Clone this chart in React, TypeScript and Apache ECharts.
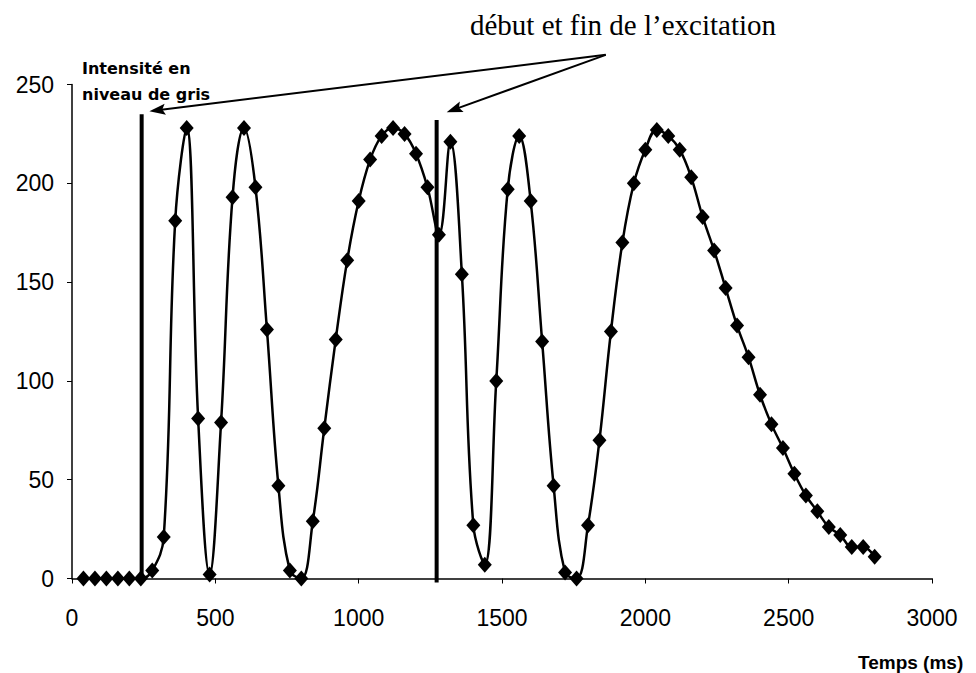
import React, { useEffect, useRef } from "react";
import * as echarts from "echarts";

// ---- data ----
const TIMES_MS = [
  40, 80, 120, 160, 200, 240, 280, 320, 360, 400, 440, 480, 520, 560, 600, 640, 680, 720, 760, 800,
  840, 880, 920, 960, 1000, 1040, 1080, 1120, 1160, 1200, 1240, 1280, 1320, 1360, 1400, 1440, 1480,
  1520, 1560, 1600, 1640, 1680, 1720, 1760, 1800, 1840, 1880, 1920, 1960, 2000, 2040, 2080, 2120,
  2160, 2200, 2240, 2280, 2320, 2360, 2400, 2440, 2480, 2520, 2560, 2600, 2640, 2680, 2720, 2760, 2800,
];
const INTENSITY = [
  0, 0, 0, 0, 0, 0, 4, 21, 181, 228, 81, 2, 79, 193, 228, 198, 126, 47, 4, 0,
  29, 76, 121, 161, 191, 212, 224, 228, 225, 215, 198, 174, 221, 154, 27, 7, 100,
  197, 224, 191, 120, 47, 3, 0, 27, 70, 125, 170, 200, 217, 227, 224, 217,
  203, 183, 166, 147, 128, 112, 93, 78, 66, 53, 42, 34, 26, 22, 16, 16, 11,
];

const X_MIN = 0;
const X_MAX = 3000;
const X_INTERVAL = 500;
const Y_MIN = 0;
const Y_MAX = 250;
const Y_INTERVAL = 50;

// excitation start / end markers: [time ms, top value]
const EXCITATION_START = [243, 235];
const EXCITATION_END = [1272, 232];

// annotation arrows (data coordinates)
const ARROW_ORIGIN = [1862, 265];
const ARROW_TIPS = [
  [270, 236.5],
  [1307, 236],
];

const TITLE_TEXT = "début et fin de l’excitation";
const Y_NAME_LINES = ["Intensité en", "niveau de gris"];
const X_NAME = "Temps (ms)";

export default function App() {
  const ref = useRef<HTMLDivElement>(null);

  useEffect(() => {
    if (!ref.current) return;
    const chart = echarts.init(ref.current, null, { renderer: "svg" });
    const data = TIMES_MS.map((t, i) => [t, INTENSITY[i]]);

    chart.setOption({
      animation: false,
      backgroundColor: "#ffffff",
      grid: { left: 72, right: 44, top: 84.5, bottom: 94.5, containLabel: false },
      xAxis: {
        type: "value",
        min: X_MIN,
        max: X_MAX,
        interval: X_INTERVAL,
        axisLine: { show: true, onZero: false, lineStyle: { color: "#000", width: 1.5 } },
        axisTick: { show: true, inside: false, length: 5, lineStyle: { color: "#000", width: 1 } },
        axisLabel: {
          color: "#000",
          fontFamily: "Liberation Sans, Arial, sans-serif",
          fontSize: 23,
          margin: 28,
          formatter: (v: number) => String(v),
        },
        splitLine: { show: false },
      },
      yAxis: {
        type: "value",
        min: Y_MIN,
        max: Y_MAX,
        interval: Y_INTERVAL,
        axisLine: { show: true, lineStyle: { color: "#000", width: 1.5 } },
        axisTick: { show: true, inside: false, length: 5, lineStyle: { color: "#000", width: 1 } },
        axisLabel: {
          color: "#000",
          fontFamily: "Liberation Sans, Arial, sans-serif",
          fontSize: 23,
          margin: 18,
          formatter: (v: number) => String(v),
        },
        splitLine: { show: false },
      },
      series: [
        {
          type: "line",
          name: "début",
          data: [
            [EXCITATION_START[0], 0],
            [EXCITATION_START[0], EXCITATION_START[1]],
          ],
          symbol: "none",
          lineStyle: { color: "#000", width: 4 },
          z: 1,
        },
        {
          type: "line",
          name: "fin",
          data: [
            [EXCITATION_END[0], -2],
            [EXCITATION_END[0], EXCITATION_END[1]],
          ],
          symbol: "none",
          clip: false,
          lineStyle: { color: "#000", width: 4 },
          z: 1,
        },
        {
          type: "line",
          name: "Intensité",
          data,
          smooth: 0.4,
          symbol: "diamond",
          symbolSize: [14, 16],
          itemStyle: { color: "#000" },
          lineStyle: { color: "#000", width: 2.5 },
          z: 3,
        },
      ],
    });

    const toPx = (p: number[]) => chart.convertToPixel({ gridIndex: 0 }, p) as number[];
    const o = toPx(ARROW_ORIGIN);
    const arrowEls: any[] = [];
    ARROW_TIPS.forEach((tipD) => {
      const t = toPx(tipD);
      const dx = t[0] - o[0];
      const dy = t[1] - o[1];
      const len = Math.hypot(dx, dy);
      const ux = dx / len;
      const uy = dy / len;
      const nx = -uy;
      const ny = ux;
      const headLen = 16;
      const half = 5.5;
      const bx = t[0] - ux * headLen;
      const by = t[1] - uy * headLen;
      arrowEls.push({
        type: "line",
        shape: { x1: o[0], y1: o[1], x2: t[0] - ux * 12, y2: t[1] - uy * 12 },
        style: { stroke: "#000", lineWidth: 2 },
        z: 10,
      });
      arrowEls.push({
        type: "polygon",
        shape: {
          points: [
            [t[0], t[1]],
            [bx + nx * half, by + ny * half],
            [t[0] - ux * 13, t[1] - uy * 13],
            [bx - nx * half, by - ny * half],
          ],
        },
        style: { fill: "#000" },
        z: 10,
      });
    });

    chart.setOption({
      graphic: [
        ...arrowEls,
        {
          type: "text",
          left: 470,
          top: 10,
          style: {
            text: TITLE_TEXT,
            fill: "#000",
            font: "29px 'Liberation Serif', 'Times New Roman', serif",
          },
          z: 10,
        },
        {
          type: "text",
          left: 82,
          top: 55,
          style: {
            text: Y_NAME_LINES.join("\n"),
            fill: "#000",
            font: "bold 16px 'DejaVu Sans', sans-serif",
            lineHeight: 26,
          },
          z: 10,
        },
        {
          type: "text",
          left: 858,
          top: 653,
          style: {
            text: X_NAME,
            fill: "#000",
            font: "bold 19px 'Liberation Sans', Arial, sans-serif",
          },
          z: 10,
        },
      ],
    });

    return () => chart.dispose();
  }, []);

  return (
    <div
      ref={ref}
      style={{ position: "fixed", left: 0, top: 0, width: 976, height: 673, background: "#fff" }}
    />
  );
}
